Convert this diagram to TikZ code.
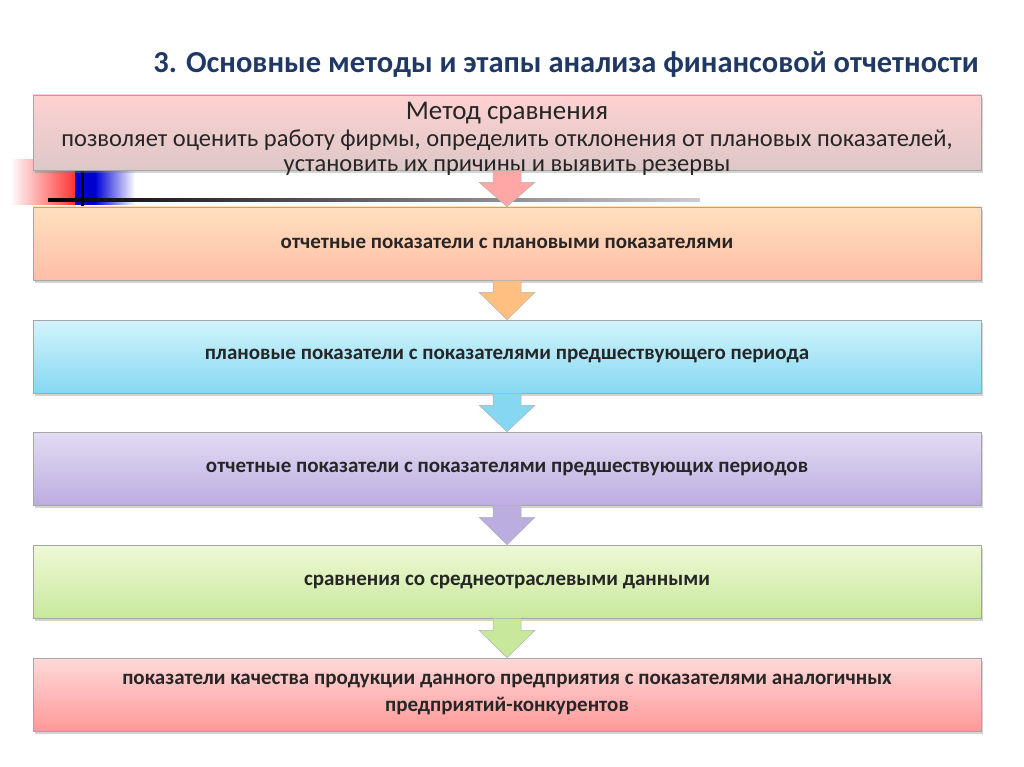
\documentclass[tikz,border=0pt]{standalone}
\usepackage{fontspec}
\setmainfont{Carlito}
\usetikzlibrary{shadows,calc}
\definecolor{titleblue}{HTML}{1F3864}
\definecolor{cyA}{HTML}{D2F4FC}\definecolor{cyB}{HTML}{86D8F2}
\definecolor{vA}{HTML}{E2DCF4}\definecolor{vB}{HTML}{BCADE0}
\definecolor{gA}{HTML}{EEF9D6}\definecolor{gB}{HTML}{C8E89C}
\tikzset{
 bx/.style={draw=gray!70, line width=0.6pt, minimum width=948pt, align=center, font=\fontsize{21}{27}\selectfont\bfseries, text=black!85, drop shadow={opacity=0.35,shadow xshift=2pt,shadow yshift=-3pt}},
 arr/.style={draw=gray!60, line width=0.5pt},
}
\begin{document}
\begin{tikzpicture}[x=1pt,y=-1pt]
\useasboundingbox (0,0) rectangle (1024,767);
% decoration
\shade[left color=white, right color=red!80] (10,160) rectangle (75,205);
\shade[left color=blue!85!black, right color=white] (95,160) rectangle (135,205);
\fill[blue!80!black] (75,160) rectangle (96,205);
\shade[left color=black, right color=gray!40] (48,199) rectangle (700,202);
\fill[black] (81,160) rectangle (84,207);
\node[font=\fontsize{30.5}{34}\selectfont\bfseries, text=titleblue] (t) at (566,65) {3. Основные методы и этапы анализа финансовой отчетности};
% boxes
\node[bx, minimum height=75pt, top color=red!18, bottom color=red!25!gray!35] (b1) at (507,132.5) {};
\node[font=\fontsize{27}{30}\selectfont, text=black!85] (b1t) at (507,113) {Метод сравнения};
\node[font=\fontsize{24.5}{25}\selectfont, text=black!85, align=center] (b1s) at (507,153) {позволяет оценить работу фирмы, определить отклонения от плановых показателей,\\ установить их причины и выявить резервы};
\node[bx, minimum height=73pt, top color=orange!25, bottom color=orange!55!red!35] (b2) at (507,243.5) {отчетные показатели с плановыми показателями};
\node[bx, minimum height=73pt, top color=cyA, bottom color=cyB] (b3) at (507,356.5) {плановые показатели с показателями предшествующего периода};
\node[bx, minimum height=73pt, top color=vA, bottom color=vB] (b4) at (507,468.5) {отчетные показатели с показателями предшествующих периодов};
\node[bx, minimum height=73pt, top color=gA, bottom color=gB] (b5) at (507,581.5) {сравнения со среднеотраслевыми данными};
\node[bx, minimum height=73pt, top color=red!15, bottom color=red!40] (b6) at (507,694.5) {показатели качества продукции данного предприятия с показателями аналогичных\\ предприятий-конкурентов};
% arrows
\foreach \a/\b/\c in {b1/b2/red!35, b2/b3/orange!50, b3/b4/cyB, b4/b5/vB, b5/b6/gB}{
  \path (\a.south) coordinate (s) (\b.north) coordinate (e);
  \path[arr, fill=\c] ($(s)+(-14,0)$) -- ($(s)+(14,0)$) -- ($(s)+(14,12)$) -- ($(s)+(28,12)$) -- (e) -- ($(s)+(-28,12)$) -- ($(s)+(-14,12)$) -- cycle;
}
\end{tikzpicture}
\end{document}
